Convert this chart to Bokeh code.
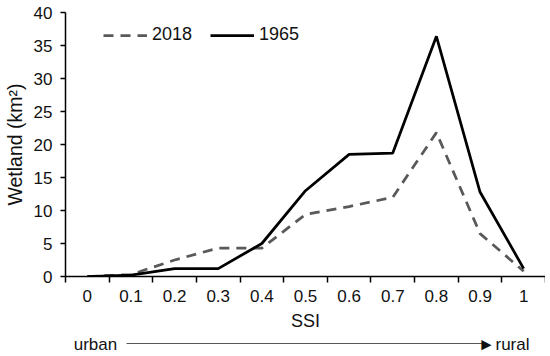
from bokeh.plotting import figure
from bokeh.models import Range1d, FixedTicker, Legend, LegendItem, LinearAxis
from bokeh.embed import file_html
from bokeh.resources import INLINE

categories = ["0", "0.1", "0.2", "0.3", "0.4", "0.5", "0.6", "0.7", "0.8", "0.9", "1"]
wet_2018 = [0.0, 0.3, 2.5, 4.3, 4.3, 9.4, 10.6, 12.0, 21.8, 6.5, 0.8]
wet_1965 = [0.0, 0.2, 1.2, 1.2, 5.0, 13.0, 18.5, 18.7, 36.4, 12.8, 1.2]
y_ticks = [0, 5, 10, 15, 20, 25, 30, 35, 40]
gradient_labels = ["urban", "\u25ba", "rural"]

FONT = "Liberation Sans"
TXT = "#111111"

n = len(categories)
xs = list(range(n))

p = figure(output_backend="svg", toolbar_location=None,
           frame_width=480, frame_height=264,
           min_border_left=54, min_border_right=0, min_border_top=12, min_border_bottom=10,
           x_range=Range1d(-0.5, n - 0.5), y_range=Range1d(0, 40))
p.outline_line_color = None
p.xgrid.visible = False
p.ygrid.visible = False
p.background_fill_color = "white"

l18 = p.line(xs, wet_2018, line_color="#595959", line_width=2.75, line_dash="10 7")
l65 = p.line(xs, wet_1965, line_color="black", line_width=2.75)

# x axis: labels at category centres, tick marks between categories
xa = p.xaxis[0]
xa.ticker = FixedTicker(ticks=xs, minor_ticks=[i - 0.5 for i in range(n + 1)])
xa.major_label_overrides = {i: c for i, c in enumerate(categories)}
xa.major_tick_out = 0
xa.major_tick_in = 0
xa.minor_tick_out = 6
xa.minor_tick_in = 0
xa.minor_tick_line_color = "black"
xa.minor_tick_line_width = 1.5
xa.axis_line_color = "black"
xa.axis_line_width = 1.5
xa.major_label_text_font = FONT
xa.major_label_text_font_size = "17px"
xa.major_label_text_color = TXT
xa.major_label_standoff = 7
xa.axis_label = "SSI"
xa.axis_label_text_font = FONT
xa.axis_label_text_font_size = "18px"
xa.axis_label_text_font_style = "normal"
xa.axis_label_text_color = TXT
xa.axis_label_standoff = 6

ya = p.yaxis[0]
ya.ticker = FixedTicker(ticks=y_ticks)
ya.minor_tick_line_color = None
ya.major_tick_out = 5
ya.major_tick_in = 0
ya.major_tick_line_color = "black"
ya.major_tick_line_width = 1.5
ya.axis_line_color = "black"
ya.axis_line_width = 1.5
ya.major_label_text_font = FONT
ya.major_label_text_font_size = "17px"
ya.major_label_text_color = TXT
ya.major_label_standoff = 8
ya.axis_label = "Wetland (km²)"
ya.axis_label_text_font = FONT
ya.axis_label_text_font_size = "19.5px"
ya.axis_label_text_font_style = "normal"
ya.axis_label_text_color = TXT
ya.axis_label_standoff = 5

legend = Legend(items=[LegendItem(label="2018", renderers=[l18]),
                       LegendItem(label="1965", renderers=[l65])],
                orientation="horizontal", location=(38, 231),
                glyph_width=44, glyph_height=20, label_height=20,
                label_standoff=5, spacing=18, padding=0, margin=0,
                border_line_color=None, background_fill_alpha=0,
                label_text_font=FONT, label_text_font_size="18px",
                label_text_color=TXT)
p.add_layout(legend)

# white (invisible) spacer axis between the SSI label and the urban -> rural arrow
spacer = LinearAxis(ticker=FixedTicker(ticks=[0], minor_ticks=[]),
                    major_label_overrides={0: " "},
                    axis_line_color=None, minor_tick_line_color=None,
                    major_tick_line_color="white", major_tick_out=6, major_tick_in=0,
                    major_label_standoff=0, major_label_text_color="white",
                    major_label_text_font=FONT, major_label_text_font_size="1px")
p.add_layout(spacer, "below")

# urban -> rural gradient arrow: a second bottom axis whose line is the arrow shaft
px_per_x = 480 / n
def dx(px):
    return px / px_per_x - 0.5
ann_pos = [dx(30), dx(421), dx(447)]
ga = LinearAxis(ticker=FixedTicker(ticks=ann_pos),
                major_label_overrides={v: t for v, t in zip(ann_pos, gradient_labels)},
                bounds=(dx(61), dx(418)),
                axis_line_color="#555555", axis_line_width=1,
                major_tick_line_color=None, minor_tick_line_color=None,
                major_tick_out=0, major_tick_in=0,
                major_label_standoff=-9, major_label_text_baseline="middle",
                major_label_text_font=FONT, major_label_text_font_size="17px",
                major_label_text_color=TXT)
p.add_layout(ga, "below")

open("out.html", "w").write(file_html(p, INLINE))
